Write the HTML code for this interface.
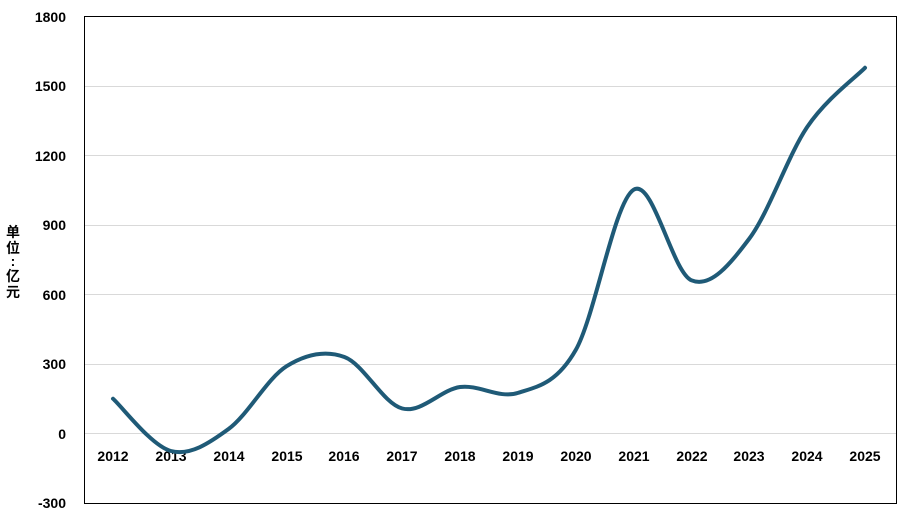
<!DOCTYPE html>
<html><head><meta charset="utf-8"><style>
html,body{margin:0;padding:0;background:#fff;width:900px;height:514px;overflow:hidden}
svg text{font-family:"Liberation Sans","Noto Sans CJK SC",sans-serif;font-weight:bold;font-size:14px;fill:#000}
</style></head><body>
<svg id="s" width="900" height="514" xmlns="http://www.w3.org/2000/svg">
<g stroke="#d9d9d9" stroke-width="1">
<line x1="85" x2="897" y1="86.5" y2="86.5"/>
<line x1="85" x2="897" y1="155.5" y2="155.5"/>
<line x1="85" x2="897" y1="225.5" y2="225.5"/>
<line x1="85" x2="897" y1="294.5" y2="294.5"/>
<line x1="85" x2="897" y1="364.5" y2="364.5"/>
<line x1="85" x2="897" y1="433.5" y2="433.5"/>
</g>
<rect x="84.5" y="16.5" width="812" height="487" fill="none" stroke="#000" stroke-width="1"/>
<g text-anchor="end">
<text x="66" y="22">1800</text>
<text x="66" y="91">1500</text>
<text x="66" y="161">1200</text>
<text x="66" y="230">900</text>
<text x="66" y="300">600</text>
<text x="66" y="369">300</text>
<text x="66" y="439">0</text>
<text x="66" y="508">-300</text>
</g>
<g text-anchor="middle">
<text x="113" y="461">2012</text><text x="171" y="461">2013</text><text x="229" y="461">2014</text>
<text x="287" y="461">2015</text><text x="344" y="461">2016</text><text x="402" y="461">2017</text>
<text x="460" y="461">2018</text><text x="518" y="461">2019</text><text x="576" y="461">2020</text>
<text x="634" y="461">2021</text><text x="692" y="461">2022</text><text x="749" y="461">2023</text>
<text x="807" y="461">2024</text><text x="865" y="461">2025</text>
</g>
<g text-anchor="middle" font-size="15">
<text x="13" y="237">单</text><text x="13" y="253">位</text><text x="13" y="266">:</text>
<text x="13" y="281">亿</text><text x="13" y="297">元</text>
</g>
<path id="p" fill="none" stroke="#1f5a77" stroke-width="4" stroke-linecap="round"/>
</svg>
<script>
var xs=[113,170.9,228.7,286.6,344.4,402.3,460.1,518,575.8,633.7,691.5,749.4,807.2,865];
var ys=[398.7,451,428.9,366.2,357,408.5,387,392.9,349.9,189.7,280.3,238.5,127,67.8];
var d="M"+xs[0]+","+ys[0];
for(var i=0;i<xs.length-1;i++){
var x0=xs[i-1]!==undefined?xs[i-1]:xs[i],y0=ys[i-1]!==undefined?ys[i-1]:ys[i];
var x3=xs[i+2]!==undefined?xs[i+2]:xs[i+1],y3=ys[i+2]!==undefined?ys[i+2]:ys[i+1];
var t=6;
d+=" C"+(xs[i]+(xs[i+1]-x0)/t)+","+(ys[i]+(ys[i+1]-y0)/t)+" "+(xs[i+1]-(x3-xs[i])/t)+","+(ys[i+1]-(y3-ys[i])/t)+" "+xs[i+1]+","+ys[i+1];
}
document.getElementById("p").setAttribute("d",d);
</script>
</body></html>
